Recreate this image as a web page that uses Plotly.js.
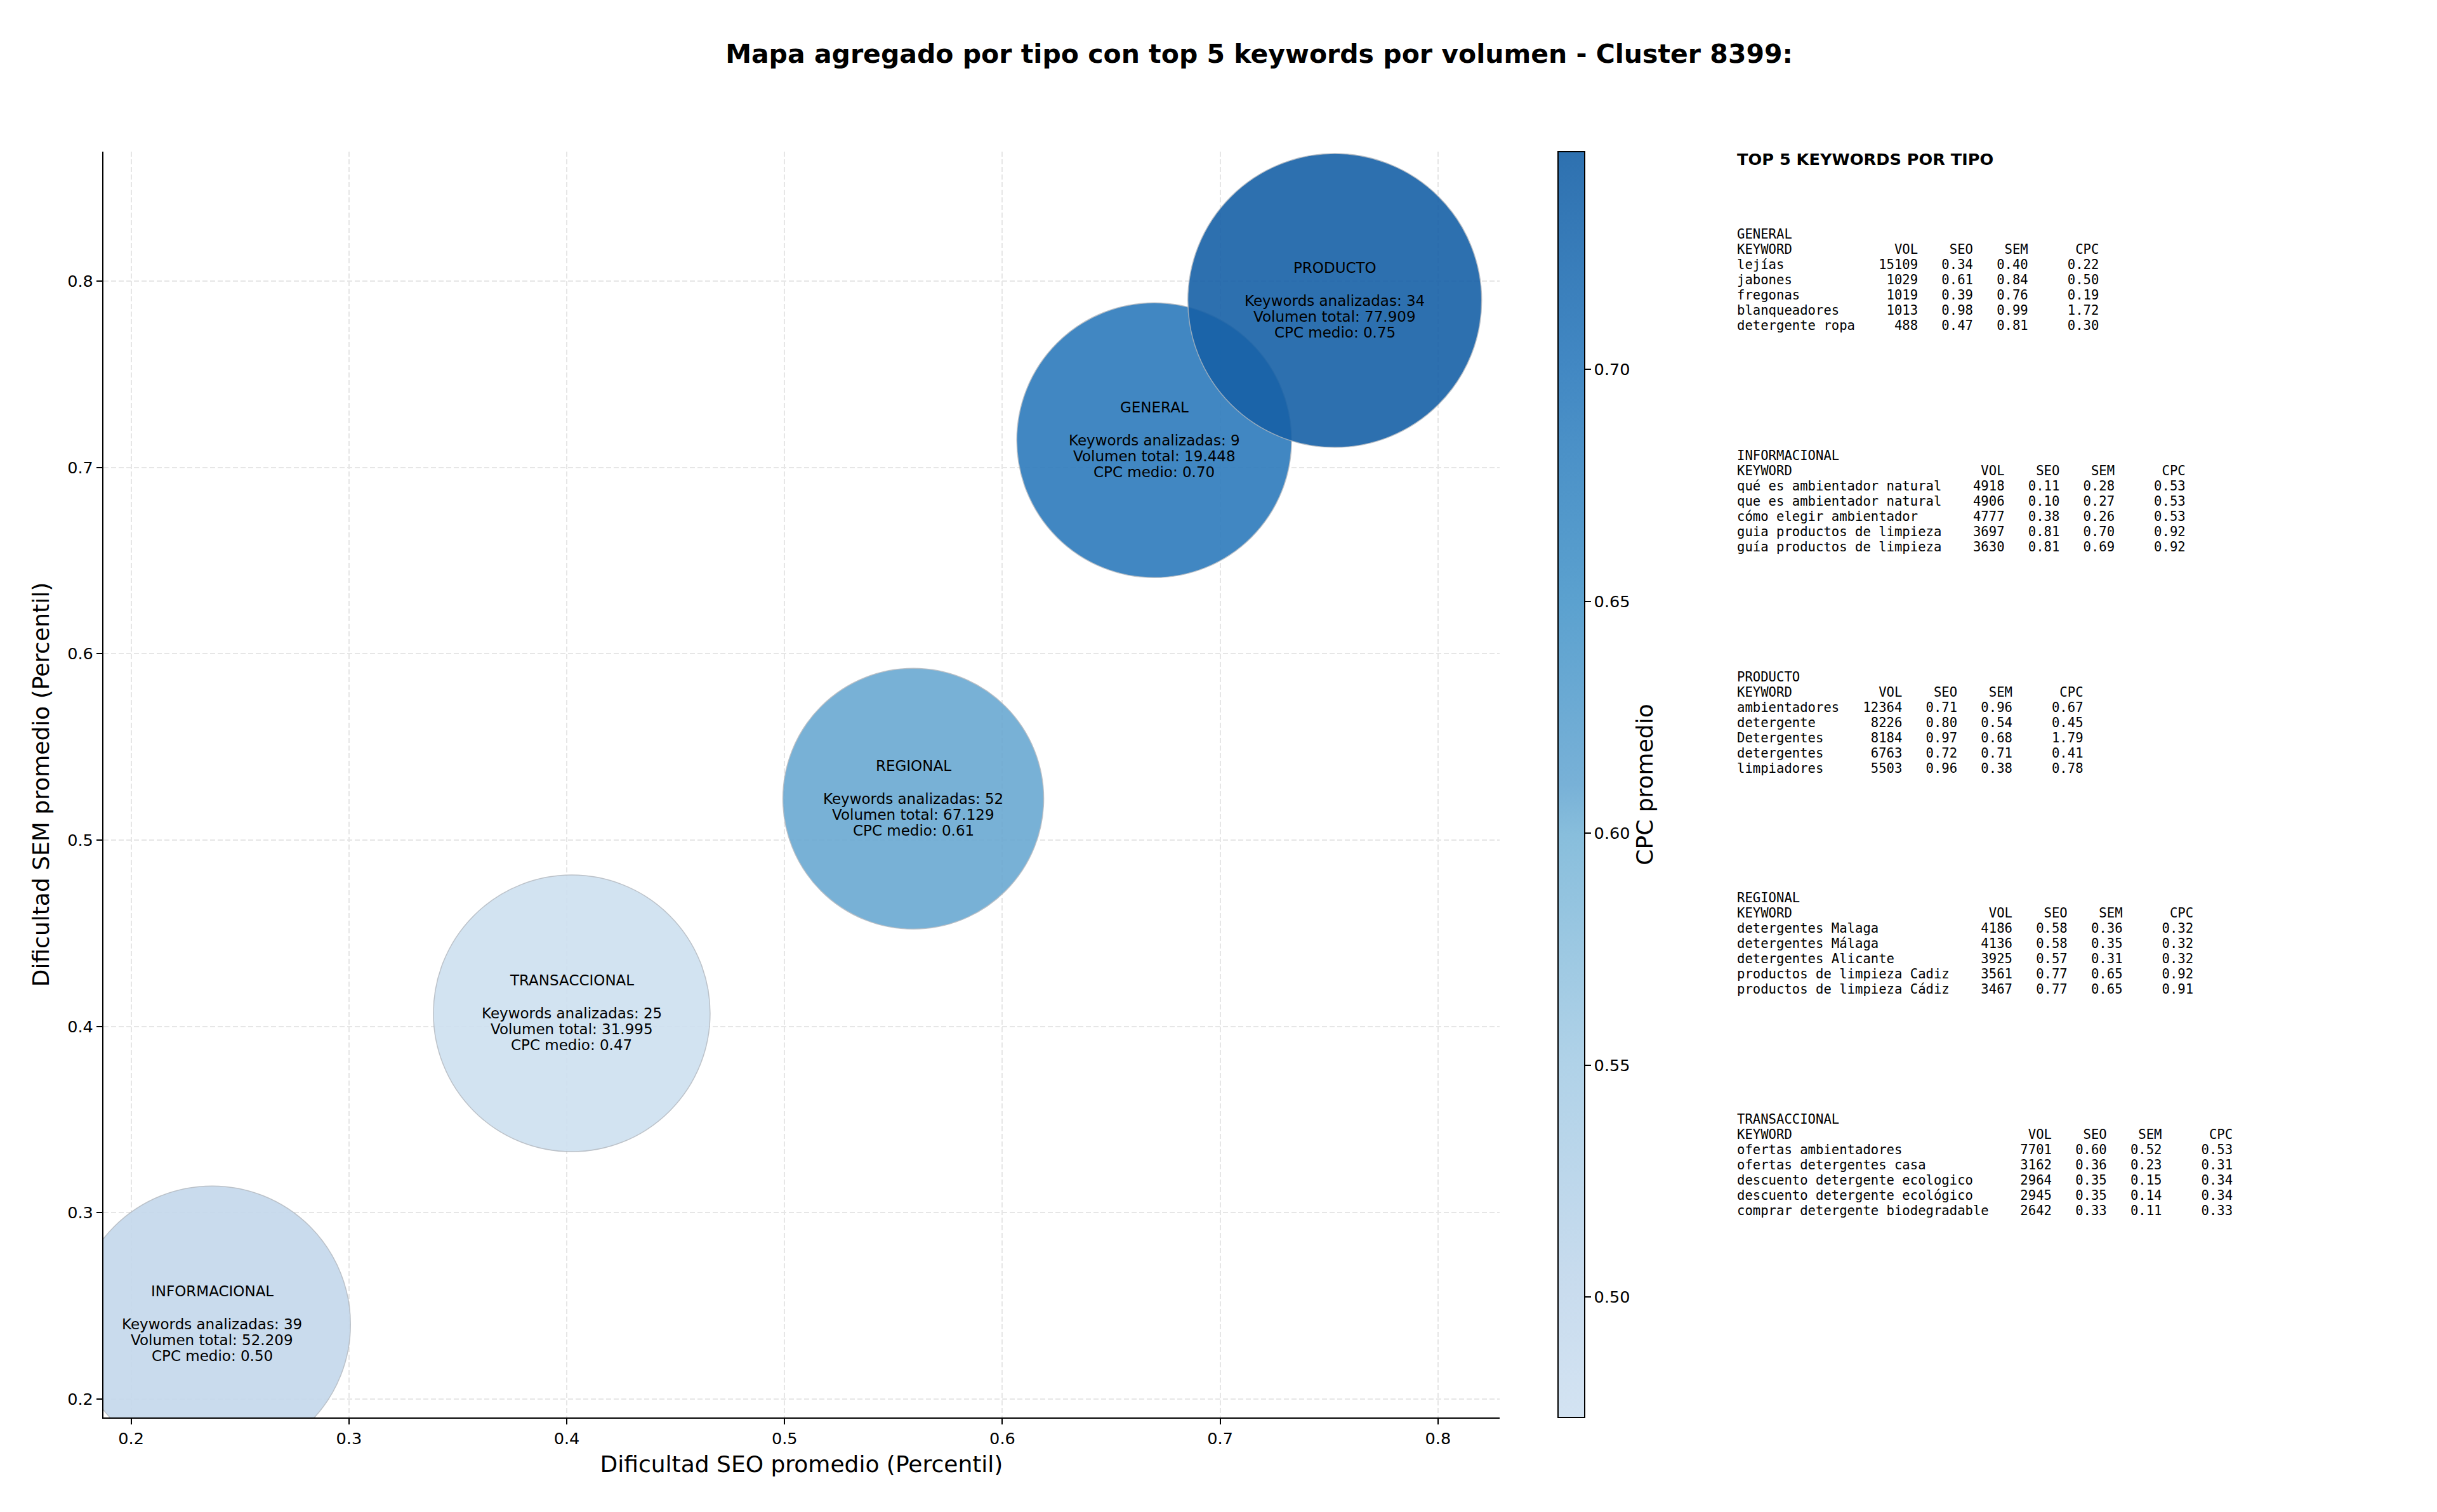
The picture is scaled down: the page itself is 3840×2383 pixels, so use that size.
<!DOCTYPE html>
<html>
<head>
<meta charset="utf-8">
<script src="https://cdn.plot.ly/plotly-3.0.1.min.js"></script>
<style>
  html, body { margin: 0; padding: 0; background: #ffffff; }
  #chart { width: 3840px; height: 2383px; }
</style>
</head>
<body>
<div id="chart"></div>
<script>
// ---------------- DATA ----------------
const tipos = ['GENERAL', 'INFORMACIONAL', 'PRODUCTO', 'REGIONAL', 'TRANSACCIONAL'];
const seoPromedio = [0.6697, 0.2372, 0.7526, 0.5591, 0.4023];
const semPromedio = [0.7146, 0.2401, 0.7896, 0.5222, 0.4070];
const cpcPromedio = [0.700, 0.500, 0.747, 0.610, 0.474];
const keywordsAnalizadas = [9, 39, 34, 52, 25];
const volumenTotal = [19448, 52209, 77909, 67129, 31995];
const bubbleDiameter = [433, 436, 463, 411, 436];

const kwGeneral = ['lejías', 'jabones', 'fregonas', 'blanqueadores', 'detergente ropa'];
const volGeneral = [15109, 1029, 1019, 1013, 488];
const seoGeneral = [0.34, 0.61, 0.39, 0.98, 0.47];
const semGeneral = [0.40, 0.84, 0.76, 0.99, 0.81];
const cpcGeneral = [0.22, 0.50, 0.19, 1.72, 0.30];

const kwInformacional = ['qué es ambientador natural', 'que es ambientador natural', 'cómo elegir ambientador', 'guia productos de limpieza', 'guía productos de limpieza'];
const volInformacional = [4918, 4906, 4777, 3697, 3630];
const seoInformacional = [0.11, 0.10, 0.38, 0.81, 0.81];
const semInformacional = [0.28, 0.27, 0.26, 0.70, 0.69];
const cpcInformacional = [0.53, 0.53, 0.53, 0.92, 0.92];

const kwProducto = ['ambientadores', 'detergente', 'Detergentes', 'detergentes', 'limpiadores'];
const volProducto = [12364, 8226, 8184, 6763, 5503];
const seoProducto = [0.71, 0.80, 0.97, 0.72, 0.96];
const semProducto = [0.96, 0.54, 0.68, 0.71, 0.38];
const cpcProducto = [0.67, 0.45, 1.79, 0.41, 0.78];

const kwRegional = ['detergentes Malaga', 'detergentes Málaga', 'detergentes Alicante', 'productos de limpieza Cadiz', 'productos de limpieza Cádiz'];
const volRegional = [4186, 4136, 3925, 3561, 3467];
const seoRegional = [0.58, 0.58, 0.57, 0.77, 0.77];
const semRegional = [0.36, 0.35, 0.31, 0.65, 0.65];
const cpcRegional = [0.32, 0.32, 0.32, 0.92, 0.91];

const kwTransaccional = ['ofertas ambientadores', 'ofertas detergentes casa', 'descuento detergente ecologico', 'descuento detergente ecológico', 'comprar detergente biodegradable'];
const volTransaccional = [7701, 3162, 2964, 2945, 2642];
const seoTransaccional = [0.60, 0.36, 0.35, 0.35, 0.33];
const semTransaccional = [0.52, 0.23, 0.15, 0.14, 0.11];
const cpcTransaccional = [0.53, 0.31, 0.34, 0.34, 0.33];

const colorbarTicks = [0.50, 0.55, 0.60, 0.65, 0.70];
const axisTicks = [0.2, 0.3, 0.4, 0.5, 0.6, 0.7, 0.8];

// ---------------- HELPERS ----------------
const FIG_W = 3840, FIG_H = 2383;
const PL = 163, PR = 2363, PT = 239, PB = 2234;
const paperX = p => (p - PL) / (PR - PL);
const paperY = p => (PB - p) / (PB - PT);
const nb = s => s.replace(/ /g, '\u00a0');
const fmtMiles = v => String(v).replace(/\B(?=(\d{3})+(?!\d))/g, '.');

const cmin = Math.min(...cpcPromedio);
const cmax = Math.max(...cpcPromedio);

// colours as seen (colorbar) and underlying fill used with opacity
const displayScale = [
  [0.00, '#d3e3f2'], [0.10, '#c9dcee'], [0.28, '#b0d2e8'], [0.46, '#88bedc'],
  [0.50, '#78b1d7'], [0.645, '#5ba1cf'], [0.83, '#4288c3'], [1.00, '#2e71b0']
];
const fillScale = [
  [0.00, '#cee0f0'], [0.10, '#c3d8ec'], [0.28, '#a7cde5'], [0.46, '#7bb7d8'],
  [0.50, '#69a8d2'], [0.645, '#4997ca'], [0.83, '#2d7bbc'], [1.00, '#1761a7']
];

// ---------------- TRACES ----------------
const bubbles = {
  type: 'scatter',
  mode: 'markers',
  x: seoPromedio,
  y: semPromedio,
  text: tipos,
  hoverinfo: 'text',
  cliponaxis: true,
  marker: {
    size: bubbleDiameter,
    sizemode: 'diameter',
    color: cpcPromedio,
    colorscale: fillScale,
    cmin: cmin,
    cmax: cmax,
    opacity: 0.9,
    showscale: false,
    line: { color: 'rgba(175,182,190,0.9)', width: 1.5 }
  },
  showlegend: false
};

const scaleTrace = {
  type: 'scatter',
  mode: 'markers',
  x: seoPromedio,
  y: semPromedio,
  hoverinfo: 'skip',
  marker: {
    size: 1,
    opacity: 0,
    color: cpcPromedio,
    colorscale: displayScale,
    cmin: cmin,
    cmax: cmax,
    showscale: true,
    colorbar: {
      x: paperX(2455),
      xanchor: 'left',
      xpad: 0,
      y: 0.5,
      yanchor: 'middle',
      len: 1,
      lenmode: 'fraction',
      ypad: 0,
      thickness: 42,
      thicknessmode: 'pixels',
      outlinewidth: 2,
      outlinecolor: '#000000',
      ticks: 'outside',
      ticklen: 9,
      tickwidth: 2,
      tickcolor: '#000000',
      tickvals: colorbarTicks,
      ticktext: colorbarTicks.map(v => v.toFixed(2)),
      tickfont: { family: 'DejaVu Sans', size: 25.6, color: '#000000' },
      title: {
        text: 'CPC promedio',
        side: 'right',
        font: { family: 'DejaVu Sans', size: 36, color: '#000000' }
      }
    }
  },
  showlegend: false
};

// ---------------- ANNOTATIONS ----------------
const annotations = [];

// bubble labels
const lineShift = [52, 0, -25, -50];
tipos.forEach((t, i) => {
  const lines = [
    t,
    'Keywords analizadas: ' + keywordsAnalizadas[i],
    'Volumen total: ' + fmtMiles(volumenTotal[i]),
    'CPC medio: ' + cpcPromedio[i].toFixed(2)
  ];
  lines.forEach((txt, j) => {
    annotations.push({
      x: seoPromedio[i], y: semPromedio[i], xref: 'x', yref: 'y',
      text: txt, showarrow: false, xanchor: 'center', yanchor: 'middle',
      yshift: lineShift[j],
      font: { family: 'DejaVu Sans', size: 23, color: '#000000' }
    });
  });
});

// side table
const sections = [
  { name: 'GENERAL', kw: kwGeneral, vol: volGeneral, seo: seoGeneral, sem: semGeneral, cpc: cpcGeneral },
  { name: 'INFORMACIONAL', kw: kwInformacional, vol: volInformacional, seo: seoInformacional, sem: semInformacional, cpc: cpcInformacional },
  { name: 'PRODUCTO', kw: kwProducto, vol: volProducto, seo: seoProducto, sem: semProducto, cpc: cpcProducto },
  { name: 'REGIONAL', kw: kwRegional, vol: volRegional, seo: seoRegional, sem: semRegional, cpc: cpcRegional },
  { name: 'TRANSACCIONAL', kw: kwTransaccional, vol: volTransaccional, seo: seoTransaccional, sem: semTransaccional, cpc: cpcTransaccional }
];

const tableX = paperX(2735);
annotations.push({
  x: tableX, y: paperY(251), xref: 'paper', yref: 'paper',
  text: '<b>TOP 5 KEYWORDS POR TIPO</b>', showarrow: false,
  xanchor: 'left', yanchor: 'middle',
  font: { family: 'DejaVu Sans', size: 25.6, color: '#000000' }
});

const monoFont = { family: 'DejaVu Sans Mono', size: 20.6, color: '#000000' };
sections.forEach((s, si) => {
  const Lmax = Math.max(...s.kw.map(k => k.length));
  const rows = [s.name];
  rows.push('KEYWORD'.padEnd(Lmax) + '  ' + 'VOL'.padStart(6) + '  ' + 'SEO'.padStart(5) + '  ' + 'SEM'.padStart(5) + '  ' + 'CPC'.padStart(7));
  s.kw.forEach((k, r) => {
    rows.push(k.padEnd(Lmax) + '  ' + String(s.vol[r]).padStart(6) + '  ' + s.seo[r].toFixed(2).padStart(5) + '  ' +
      s.sem[r].toFixed(2).padStart(5) + '  ' + s.cpc[r].toFixed(2).padStart(7));
  });
  const top = 369 + 348.8 * si;
  rows.forEach((row, r) => {
    annotations.push({
      x: tableX, y: paperY(top + 24 * r), xref: 'paper', yref: 'paper',
      text: nb(row), showarrow: false, xanchor: 'left', yanchor: 'middle',
      font: monoFont
    });
  });
});

// ---------------- LAYOUT ----------------
const axisCommon = {
  showgrid: true,
  gridcolor: '#e6e6e6',
  gridwidth: 2,
  griddash: '8px,4px',
  zeroline: false,
  showline: true,
  linecolor: '#000000',
  linewidth: 2,
  mirror: false,
  ticks: 'outside',
  ticklen: 9,
  tickwidth: 2,
  tickcolor: '#000000',
  tickvals: axisTicks,
  ticktext: axisTicks.map(v => v.toFixed(1)),
  tickfont: { family: 'DejaVu Sans', size: 25.6, color: '#000000' }
};

const layout = {
  width: FIG_W,
  height: FIG_H,
  paper_bgcolor: '#ffffff',
  plot_bgcolor: '#ffffff',
  font: { family: 'DejaVu Sans', color: '#000000' },
  margin: { l: PL, r: FIG_W - PR, t: PT, b: FIG_H - PB, pad: 0 },
  title: {
    text: '<b>Mapa agregado por tipo con top 5 keywords por volumen - Cluster 8399:</b>',
    xref: 'container', yref: 'container',
    x: 1984 / FIG_W, y: 1 - 85 / FIG_H,
    xanchor: 'center', yanchor: 'middle',
    font: { family: 'DejaVu Sans', size: 41, color: '#000000' }
  },
  xaxis: Object.assign({}, axisCommon, {
    range: [0.1873, 0.8283],
    title: { text: 'Dificultad SEO promedio (Percentil)', standoff: 14,
      font: { family: 'DejaVu Sans', size: 36, color: '#000000' } }
  }),
  yaxis: Object.assign({}, axisCommon, {
    range: [0.1901, 0.8695],
    title: { text: 'Dificultad SEM promedio (Percentil)', standoff: 18,
      font: { family: 'DejaVu Sans', size: 36, color: '#000000' } }
  }),
  annotations: annotations,
  showlegend: false,
  hovermode: 'closest'
};

Plotly.newPlot('chart', [bubbles, scaleTrace], layout, { staticPlot: true, displayModeBar: false });
</script>
</body>
</html>
